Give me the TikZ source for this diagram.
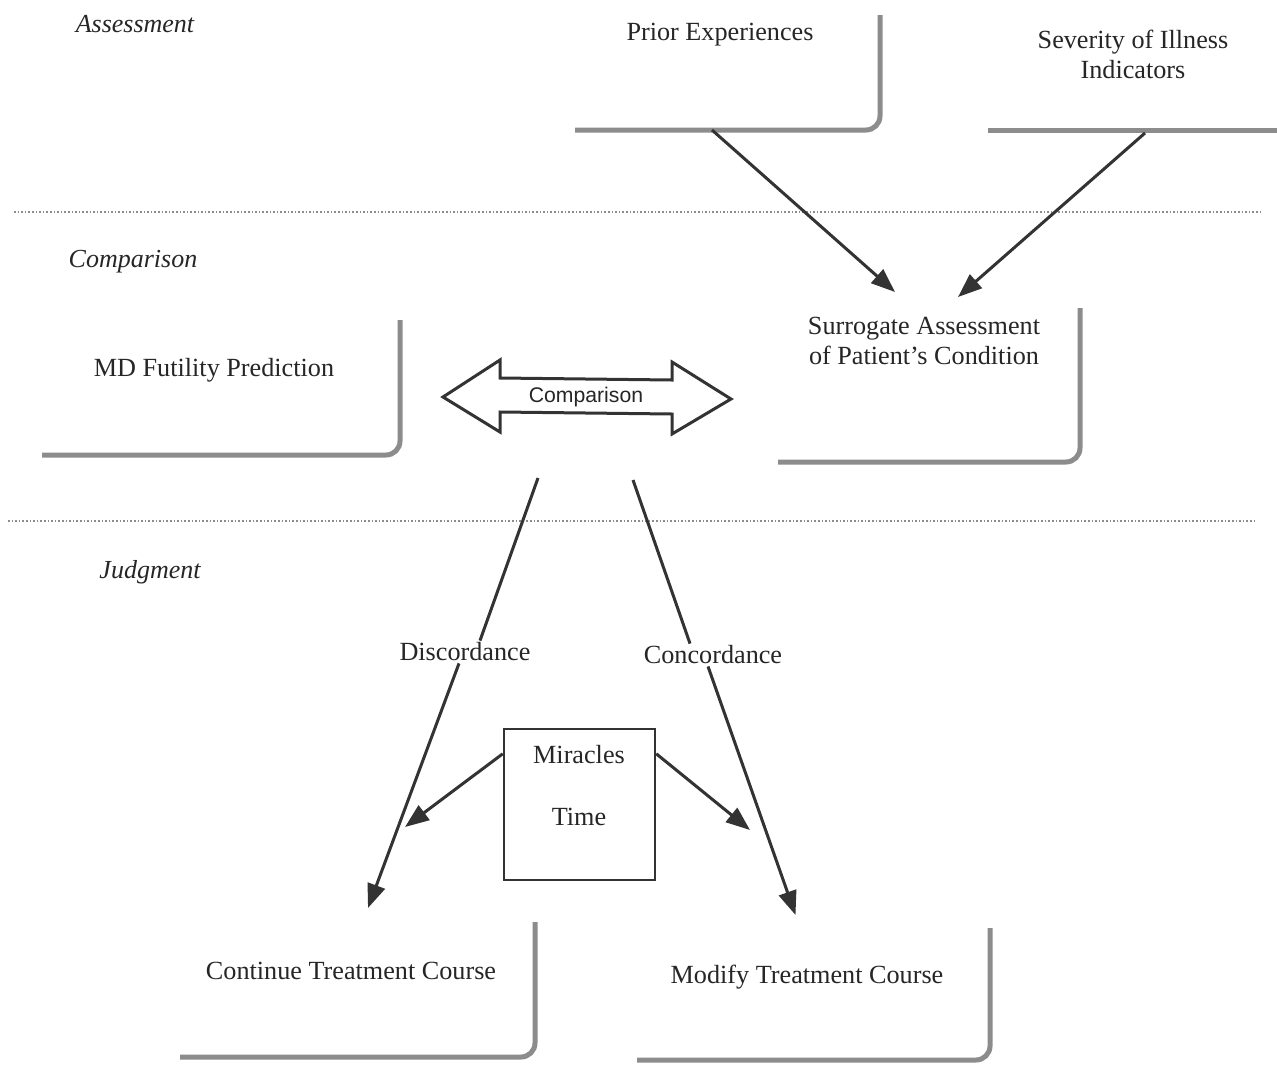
\documentclass[tikz,border=0pt]{standalone}
\usepackage{fontspec}
\setmainfont{Liberation Serif}
\setsansfont{Liberation Sans}
\usetikzlibrary{arrows.meta}
\begin{document}
\begin{tikzpicture}[x=1pt,y=-1pt,
  txt/.style={font=\fontsize{26.2}{30}\selectfont, inner sep=0pt, align=center, text=black!85},
  lbl/.style={font=\itshape\fontsize{26}{30}\selectfont, inner sep=0pt, text=black!85},
  area/.style={inner sep=0pt, outer sep=0pt},
  edge/.style={draw=black!45, line width=5pt, rounded corners=14pt},
  conn/.style={draw=black!80, line width=3pt, -{Triangle[length=24pt,width=18pt]}},
  plain/.style={draw=black!80, line width=3pt},
  sep/.style={draw=black!45, line width=1.6pt, dotted}]
\useasboundingbox (0,0) rectangle (1277,1066);
\fill[white] (0,0) rectangle (1277,1066);

% section labels
\node[lbl] (lassess) at (135,24) {Assessment};
\node[lbl] (lcomp) at (133,262) {Comparison};
\node[lbl] (ljudg) at (150,572) {Judgment};

% separators
\coordinate (s1a) at (14,212); \coordinate (s1b) at (1260,212);
\coordinate (s2a) at (8,521); \coordinate (s2b) at (1257,521);
\draw[sep] (s1a) -- (s1b);
\draw[sep] (s2a) -- (s2b);

% boxes (areas)
\node[area, minimum width=305pt, minimum height=115pt] (priorbox) at (727.5,72.5) {};
\node[area, minimum width=289pt, minimum height=115pt] (sevbox) at (1132.5,72.5) {};
\node[area, minimum width=358pt, minimum height=135pt] (mdbox) at (221,387.5) {};
\node[area, minimum width=302pt, minimum height=154pt] (surbox) at (929,385) {};
\node[area, minimum width=355pt, minimum height=135pt] (contbox) at (357.5,989.5) {};
\node[area, minimum width=353pt, minimum height=132pt] (modbox) at (813.5,994) {};

\draw[edge] (priorbox.south west) -- (priorbox.south east) -- (priorbox.north east);
\draw[edge] (sevbox.south west) -- (sevbox.south east);
\draw[edge] (mdbox.south west) -- (mdbox.south east) -- (mdbox.north east);
\draw[edge] (surbox.south west) -- (surbox.south east) -- (surbox.north east);
\draw[edge] (contbox.south west) -- (contbox.south east) -- (contbox.north east);
\draw[edge] (modbox.south west) -- (modbox.south east) -- (modbox.north east);

% box texts
\node[txt] (prior) at (720,35) {Prior Experiences};
\node[txt] (sev) at (1133,54) {Severity of Illness\\Indicators};
\node[txt] (md) at (214,370) {MD Futility Prediction};
\node[txt] (sur) at (924,341) {Surrogate Assessment\\of Patient's Condition};
\node[txt] (cont) at (351,971) {Continue Treatment Course};
\node[txt] (mod) at (807,977) {Modify Treatment Course};

% comparison double arrow
\node[inner sep=0pt, font=\sffamily\fontsize{21.2}{24}\selectfont, text=black!85] (cmp) at (586,397) {Comparison};
\draw[line width=3pt, draw=black!80, line join=miter]
  (443,397) -- (500,360) -- (500,378) -- (672,380) -- (672,362) -- (731,399)
  -- (672,434) -- (672,414) -- (500,412) -- (500,432) -- cycle;

% assessment arrows
\draw[conn] ([xshift=-15.5pt]priorbox.south) -- ([xshift=-34pt,yshift=16pt]surbox.north);
\draw[conn] ([xshift=12.5pt,yshift=-3pt]sevbox.south) -- ([xshift=29pt,yshift=11pt]surbox.north);

% judgment
\node[txt] (disc) at (465,652) {Discordance};
\node[txt] (conc) at (713,655) {Concordance};
\coordinate (cd1) at (538,478);
\coordinate (cc1) at (633,480);
\draw[plain] (cd1) -- ([xshift=15pt,yshift=2pt]disc.north);
\draw[plain] (cc1) -- ([xshift=-23pt,yshift=2pt]conc.north);
\draw[conn] ([xshift=-6pt,yshift=-2pt]disc.south) -- ([xshift=10.5pt,yshift=14pt]contbox.north);
\draw[conn] ([xshift=-5pt,yshift=-2pt]conc.south) -- ([xshift=-18pt,yshift=13pt]modbox.north);

% miracles box
\node[draw=black!80, line width=2.5pt, minimum width=151pt, minimum height=151pt, inner sep=0pt] (mir) at (579.5,804.5) {};
\node[txt] (mira) at (579,755) {Miracles};
\node[txt] (time) at (579,817) {Time};
\coordinate (ml) at (405,827);
\coordinate (mr) at (750,830);
\draw[conn] ([yshift=-26pt]mir.north west) -- (ml);
\draw[conn] ([yshift=-26pt]mir.north east) -- (mr);
\end{tikzpicture}
\end{document}
